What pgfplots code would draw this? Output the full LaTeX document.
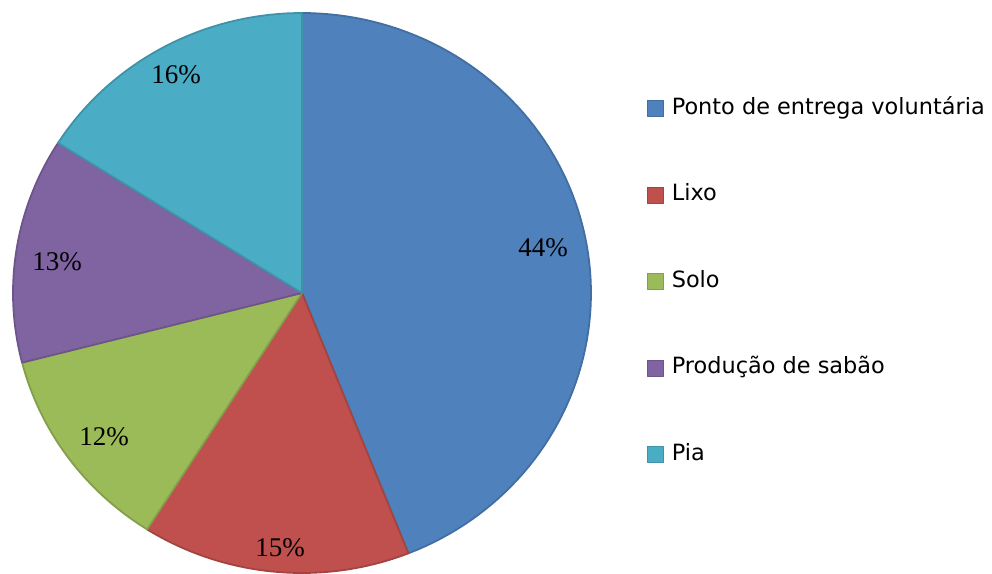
\documentclass[border=0pt]{standalone}
\usepackage{pgfplots}
\pgfplotsset{compat=1.18}
\usepackage{fontspec}
\setmainfont{Liberation Serif}
\newfontfamily\legfont{DejaVu Sans}
\definecolor{cBlue}{HTML}{4F81BD}
\definecolor{cRed}{HTML}{C0504D}
\definecolor{cGreen}{HTML}{9BBB59}
\definecolor{cPurple}{HTML}{8064A2}
\definecolor{cCyan}{HTML}{4BACC6}
% percentages
\def\pA{44}\def\pB{15}\def\pC{12}\def\pD{13}\def\pE{16}
\pgfmathsetmacro\aA{90}
\pgfmathsetmacro\aB{\aA-3.6*\pA}
\pgfmathsetmacro\aC{\aB-3.6*\pB}
\pgfmathsetmacro\aD{\aC-3.6*\pC}
\pgfmathsetmacro\aE{\aD-3.6*\pD}
\pgfmathsetmacro\aF{\aE-3.6*\pE}
\begin{document}
\begin{tikzpicture}
\begin{axis}[
  scale only axis, width=496pt, height=286pt,
  xmin=0, xmax=992, ymin=0, ymax=572,
  axis lines=none, clip=false,
  legend style={at={(axis cs:641,478)}, anchor=north west, draw=none, fill=none,
    font=\legfont\fontsize{11.2pt}{13pt}\selectfont, row sep=32.7pt,
    nodes={inner sep=0pt, text height=8pt, text depth=2.5pt},
    /tikz/every even column/.append style={column sep=5.5pt}},
  legend cell align=left,
  legend image code/.code={\draw[#1, line width=0.5pt] (0pt,-4pt) rectangle (8pt,4pt); \path (11.5pt,0pt);},
]
\addplot[fill=cBlue, draw=cBlue!85!black, line width=0.9pt, line join=round, domain=\aB:\aA, samples=90, variable=\t]
  ({302+289*cos(\t)}, {279+280*sin(\t)}) -- (axis cs:302,279) -- cycle;
\addlegendentry{Ponto de entrega voluntária}
\addplot[fill=cRed, draw=cRed!85!black, line width=0.9pt, line join=round, domain=\aC:\aB, samples=40, variable=\t]
  ({302+289*cos(\t)}, {279+280*sin(\t)}) -- (axis cs:302,279) -- cycle;
\addlegendentry{Lixo}
\addplot[fill=cGreen, draw=cGreen!85!black, line width=0.9pt, line join=round, domain=\aD:\aC, samples=40, variable=\t]
  ({302+289*cos(\t)}, {279+280*sin(\t)}) -- (axis cs:302,279) -- cycle;
\addlegendentry{Solo}
\addplot[fill=cPurple, draw=cPurple!85!black, line width=0.9pt, line join=round, domain=\aE:\aD, samples=40, variable=\t]
  ({302+289*cos(\t)}, {279+280*sin(\t)}) -- (axis cs:302,279) -- cycle;
\addlegendentry{Produção de sabão}
\addplot[fill=cCyan, draw=cCyan!85!black, line width=0.9pt, line join=round, domain=\aF:\aE, samples=40, variable=\t]
  ({302+289*cos(\t)}, {279+280*sin(\t)}) -- (axis cs:302,279) -- cycle;
\addlegendentry{Pia}
\begin{scope}[every node/.style={font=\fontsize{13.5pt}{15pt}\selectfont, inner sep=0pt}]
\node at (axis cs:543,324) {44\%};
\node at (axis cs:280,24) {15\%};
\node at (axis cs:104,135) {12\%};
\node at (axis cs:57,310) {13\%};
\node at (axis cs:176,497) {16\%};
\end{scope}
\path[use as bounding box] (axis cs:0,0) rectangle (axis cs:992,572);
\end{axis}
\end{tikzpicture}
\end{document}
